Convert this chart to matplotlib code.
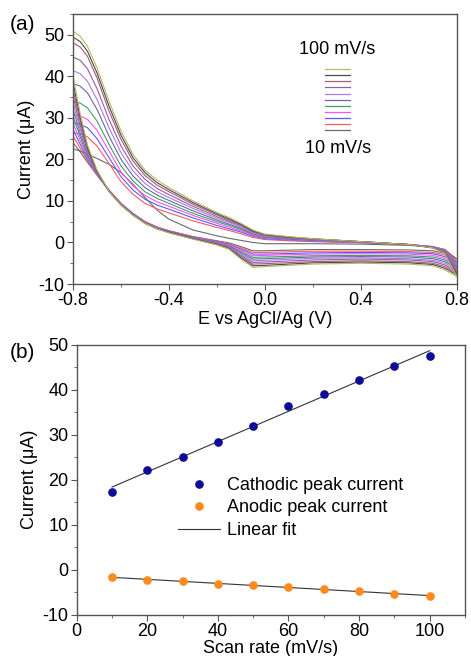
import numpy as np
import matplotlib
matplotlib.use('Agg')
import matplotlib.pyplot as plt
from matplotlib.ticker import MultipleLocator

plt.rcParams['font.family'] = ['Liberation Sans', 'DejaVu Sans']
plt.rcParams['font.size'] = 13
plt.rcParams['axes.unicode_minus'] = False

# ---- panel (a): cyclic voltammograms, smallest (10 mV/s) to largest (100 mV/s)
E_up = [-0.8, -0.77, -0.74, -0.7, -0.65, -0.6, -0.55, -0.5, -0.45, -0.4, -0.3, -0.2,
        -0.15, -0.1, -0.05, 0.0, 0.1, 0.2, 0.4, 0.6, 0.7, 0.75, 0.8]
E_lo = [0.8, 0.75, 0.7, 0.6, 0.4, 0.2, 0.0, -0.05, -0.1, -0.15, -0.2, -0.3, -0.4, -0.45,
        -0.5, -0.55, -0.6, -0.65, -0.7, -0.74, -0.77, -0.8]

I_up = [
    [22.5, 22.0, 21.2, 20.2, 18.8, 16.8, 14.0, 10.8, 7.8, 5.6, 3.0, 1.6, 1.0, 0.5, 0.0, -0.3, -0.3, -0.3, -0.4, -0.7, -1.1, -1.7, -4.0],
    [26.3, 26.1, 25.4, 23.2, 19.0, 14.6, 11.6, 9.4, 8.1, 7.1, 5.2, 3.6, 2.9, 2.1, 1.2, 0.7, 0.4, 0.2, -0.1, -0.5, -1.0, -1.7, -4.6],
    [28.7, 28.4, 27.6, 25.0, 20.4, 15.8, 12.6, 10.4, 9.0, 8.0, 5.9, 4.1, 3.3, 2.5, 1.5, 0.9, 0.6, 0.3, 0.0, -0.5, -1.0, -1.8, -5.0],
    [30.7, 30.4, 29.6, 27.0, 22.0, 17.0, 13.6, 11.3, 9.8, 8.7, 6.5, 4.6, 3.7, 2.8, 1.7, 1.1, 0.7, 0.4, 0.0, -0.5, -1.0, -1.9, -5.4],
    [33.9, 33.5, 32.4, 29.2, 23.6, 18.4, 14.8, 12.2, 10.6, 9.4, 7.0, 5.0, 4.1, 3.1, 1.9, 1.2, 0.8, 0.5, 0.1, -0.5, -1.1, -2.0, -5.8],
    [38.2, 37.6, 36.0, 32.0, 25.6, 20.0, 16.0, 13.2, 11.4, 10.1, 7.6, 5.4, 4.4, 3.4, 2.1, 1.4, 0.9, 0.6, 0.1, -0.5, -1.1, -2.1, -6.2],
    [41.3, 40.6, 38.8, 34.4, 27.6, 21.6, 17.2, 14.2, 12.2, 10.8, 8.2, 5.8, 4.8, 3.7, 2.3, 1.5, 1.0, 0.7, 0.1, -0.5, -1.2, -2.2, -6.6],
    [44.6, 43.8, 41.8, 37.0, 29.6, 23.2, 18.4, 15.2, 13.0, 11.5, 8.7, 6.2, 5.1, 4.0, 2.5, 1.7, 1.1, 0.8, 0.2, -0.5, -1.2, -2.3, -7.0],
    [48.0, 47.0, 44.8, 39.6, 31.6, 24.8, 19.6, 16.1, 13.8, 12.2, 9.2, 6.6, 5.4, 4.2, 2.7, 1.8, 1.2, 0.8, 0.2, -0.5, -1.3, -2.4, -7.4],
    [49.4, 48.3, 46.0, 40.8, 32.8, 25.8, 20.4, 16.8, 14.4, 12.7, 9.6, 6.9, 5.7, 4.4, 2.8, 1.9, 1.3, 0.9, 0.2, -0.5, -1.3, -2.5, -7.8],
    [50.8, 49.6, 47.2, 42.0, 34.0, 26.8, 21.2, 17.4, 15.0, 13.2, 10.0, 7.2, 6.0, 4.6, 3.0, 2.0, 1.4, 0.9, 0.2, -0.5, -1.3, -2.6, -8.2],
]
I_lo = [
    [-4.0, -2.6, -2.0, -1.8, -1.7, -1.7, -2.0, -2.0, -1.0, -0.1, 0.4, 1.4, 2.8, 3.7, 5.0, 7.0, 9.4, 12.6, 16.2, 19.3, 21.8, 24.0],
    [-4.6, -3.0, -2.4, -2.2, -2.1, -2.1, -2.4, -2.4, -1.3, -0.3, 0.3, 1.4, 2.8, 3.7, 5.0, 6.9, 9.4, 12.6, 16.3, 19.7, 22.7, 25.6],
    [-5.0, -3.4, -2.7, -2.5, -2.4, -2.5, -2.8, -2.8, -1.6, -0.5, 0.2, 1.3, 2.7, 3.6, 4.9, 6.9, 9.3, 12.5, 16.4, 20.1, 23.6, 27.2],
    [-5.4, -3.8, -3.1, -2.8, -2.7, -2.8, -3.1, -3.2, -1.9, -0.6, 0.1, 1.2, 2.7, 3.6, 4.9, 6.8, 9.3, 12.5, 16.5, 20.5, 24.5, 28.8],
    [-5.8, -4.2, -3.5, -3.2, -3.1, -3.2, -3.5, -3.6, -2.2, -0.8, 0.0, 1.2, 2.6, 3.5, 4.8, 6.8, 9.2, 12.4, 16.6, 20.9, 25.4, 30.4],
    [-6.2, -4.6, -3.9, -3.5, -3.4, -3.5, -3.9, -4.0, -2.5, -0.9, -0.1, 1.1, 2.6, 3.5, 4.8, 6.7, 9.2, 12.4, 16.7, 21.4, 26.3, 32.0],
    [-6.6, -5.0, -4.3, -3.9, -3.7, -3.8, -4.3, -4.4, -2.8, -1.1, -0.2, 1.1, 2.5, 3.4, 4.7, 6.7, 9.1, 12.4, 16.8, 21.8, 27.2, 33.6],
    [-7.0, -5.4, -4.6, -4.2, -4.0, -4.2, -4.7, -4.8, -3.1, -1.2, -0.3, 1.0, 2.5, 3.4, 4.7, 6.7, 9.1, 12.3, 16.9, 22.2, 28.1, 35.2],
    [-7.4, -5.8, -5.0, -4.6, -4.4, -4.6, -5.1, -5.2, -3.4, -1.4, -0.4, 0.9, 2.4, 3.3, 4.7, 6.6, 9.1, 12.3, 17.1, 22.6, 29.2, 36.8],
    [-7.8, -6.2, -5.3, -4.9, -4.7, -4.9, -5.5, -5.6, -3.7, -1.5, -0.5, 0.9, 2.4, 3.3, 4.6, 6.6, 9.0, 12.3, 17.2, 23.0, 30.1, 38.4],
    [-8.2, -6.6, -5.6, -5.2, -5.0, -5.2, -5.8, -6.0, -4.0, -1.6, -0.6, 0.8, 2.3, 3.3, 4.6, 6.6, 9.0, 12.3, 17.4, 23.5, 31.0, 40.0],
]
cv_colors = ['#6a6a6a', '#ff5a5a', '#5a5aff', '#ff50ff', '#40a060', '#6868a8',
             '#a87ce0', '#9a5aa8', '#a65a78', '#4a4a4a', '#b8b868']

# ---- panel (b): peak currents vs scan rate
scan_rate = [10, 20, 30, 40, 50, 60, 70, 80, 90, 100]
cathodic = [17.3, 22.2, 25.0, 28.4, 32.0, 36.4, 39.0, 42.1, 45.2, 47.6]
anodic = [-1.7, -2.2, -2.6, -3.1, -3.5, -3.9, -4.3, -4.8, -5.3, -5.9]

fig = plt.figure(figsize=(4.71, 6.56), dpi=100)
ax1 = fig.add_axes([0.155, 0.567, 0.815, 0.412])
ax2 = fig.add_axes([0.163, 0.063, 0.824, 0.4115])

for ax in (ax1, ax2):
    for s in ax.spines.values():
        s.set_color('#555555')
        s.set_linewidth(1.0)
    ax.tick_params(which='both', direction='out', color='#555555', top=False, right=False)
    ax.tick_params(which='major', length=4, pad=2)
    ax.tick_params(which='minor', length=2.5)

# CV loops: upper branch out, lower branch back, closed at -0.8
for up, lo, c in zip(I_up, I_lo, cv_colors):
    x = E_up + E_lo + [E_up[0]]
    y = up + lo + [up[0]]
    ax1.plot(x, y, color=c, lw=0.8, solid_joinstyle='round')

ax1.set_xlim(-0.8, 0.8)
ax1.set_ylim(-10, 55)
ax1.xaxis.set_minor_locator(MultipleLocator(0.2))
ax1.yaxis.set_major_locator(MultipleLocator(10))
ax1.yaxis.set_minor_locator(MultipleLocator(5))
ax1.set_xticks([-0.8, -0.4, 0.0, 0.4, 0.8])
ax1.set_xticklabels(['-0.8', '-0.4', '0.0', '0.4', '0.8'])
ax1.set_xlabel('E vs AgCl/Ag (V)', labelpad=1)
ax1.set_ylabel('Current (μA)', labelpad=3)

# scan-rate key
key_y = np.linspace(0.795, 0.570, len(cv_colors))
for yy, c in zip(key_y, cv_colors[::-1]):
    ax1.plot([0.656, 0.721], [yy, yy], color=c, lw=0.9, transform=ax1.transAxes)
ax1.text(0.687, 0.869, '100 mV/s', transform=ax1.transAxes, ha='center', va='center')
ax1.text(0.690, 0.503, '10 mV/s', transform=ax1.transAxes, ha='center', va='center')
fig.text(0.047, 0.962, '(a)', fontsize=15, ha='center', va='center')

# panel (b)
k_c = np.polyfit(scan_rate, cathodic, 1)
k_a = np.polyfit(scan_rate, anodic, 1)
xf = np.array([scan_rate[0], scan_rate[-1]])
ax2.plot(scan_rate, cathodic, 'o', color='#0c0c96', ms=5.2, label='Cathodic peak current', zorder=3)
ax2.plot(scan_rate, anodic, 'o', color='#ff8a1e', ms=5.2, label='Anodic peak current', zorder=3)
ax2.plot(xf, np.polyval(k_c, xf), color='#333333', lw=0.8, label='Linear fit')
ax2.plot(xf, np.polyval(k_a, xf), color='#333333', lw=0.8)

ax2.set_xlim(0, 110)
ax2.set_ylim(-10, 50)
ax2.xaxis.set_major_locator(MultipleLocator(20))
ax2.xaxis.set_minor_locator(MultipleLocator(10))
ax2.yaxis.set_major_locator(MultipleLocator(10))
ax2.yaxis.set_minor_locator(MultipleLocator(5))
ax2.set_xlabel('Scan rate (mV/s)', labelpad=0)
ax2.set_ylabel('Current (μA)', labelpad=3)
ax2.legend(loc='upper left', bbox_to_anchor=(0.262, 0.51), frameon=False,
           borderpad=0, borderaxespad=0, handlelength=2.3, handletextpad=0.4,
           labelspacing=0.3, numpoints=1)
fig.text(0.047, 0.462, '(b)', fontsize=15, ha='center', va='center')

fig.savefig('out.png', dpi=100)
